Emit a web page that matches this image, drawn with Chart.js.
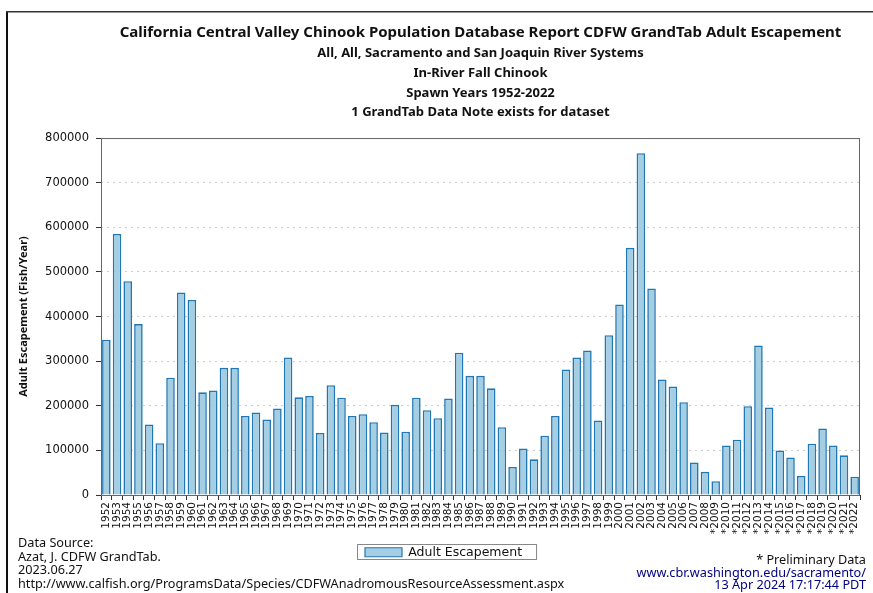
<!DOCTYPE html>
<html>
<head>
<meta charset="utf-8">
<script src="https://cdn.jsdelivr.net/npm/chart.js@4.4.0/dist/chart.umd.min.js"></script>
<style>
  html, body { margin: 0; padding: 0; background: #fff; }
  #wrap { position: relative; width: 873px; height: 593px; overflow: hidden; }
  #chart { position: absolute; left: 0; top: 0; }
  .note { position: absolute; font-family: "Noto Sans", sans-serif; font-size: 12.7px; line-height: 13.5px; color: #111; white-space: nowrap; }
  #source { left: 18px; top: 536px; }
  #stamp { right: 7px; top: 553px; text-align: right; line-height: 12.7px; }
  #stamp .link { color: #000080; }
</style>
</head>
<body>
<div id="wrap">
  <canvas id="chart" width="873" height="593"></canvas>
  <div class="note" id="source">Data Source:<br>Azat, J. CDFW GrandTab.<br>2023.06.27<br>http://www.calfish.org/ProgramsData/Species/CDFWAnadromousResourceAssessment.aspx</div>
  <div class="note" id="stamp">* Preliminary Data<br><span class="link">www.cbr.washington.edu/sacramento/</span><br><span class="link">13 Apr 2024 17:17:44 PDT</span></div>
</div>
<script>
// spawn years, * = preliminary
const yearLabels = [
    '1952','1953','1954','1955','1956','1957','1958','1959','1960','1961',
    '1962','1963','1964','1965','1966','1967','1968','1969','1970','1971',
    '1972','1973','1974','1975','1976','1977','1978','1979','1980','1981',
    '1982','1983','1984','1985','1986','1987','1988','1989','1990','1991',
    '1992','1993','1994','1995','1996','1997','1998','1999','2000','2001',
    '2002','2003','2004','2005','2006','2007','2008','*2009','*2010','*2011',
    '*2012','*2013','*2014','*2015','*2016','*2017','*2018','*2019','*2020','*2021',
    '*2022'
];

// adult escapement, fish per year
const escapement = [
    348000, 585000, 479000, 383000, 158000, 116000, 263000, 454000, 437000, 230000,
    234000, 285000, 285000, 177000, 185000, 169000, 194000, 308000, 219000, 222000,
    139000, 246000, 218000, 177000, 181000, 163000, 140000, 202000, 142000, 218000,
    190000, 172000, 216000, 319000, 267000, 267000, 239000, 152000, 63000, 104000,
    80000, 133000, 177000, 281000, 308000, 324000, 167000, 358000, 427000, 554000,
    766000, 463000, 259000, 243000, 208000, 73000, 52000, 31000, 111000, 124000,
    199000, 335000, 196000, 100000, 84000, 43000, 115000, 149000, 111000, 89000,
    41000
];

const yTicks = [0, 100000, 200000, 300000, 400000, 500000, 600000, 700000, 800000];

const titleText = 'California Central Valley Chinook Population Database Report CDFW GrandTab Adult Escapement';
const subtitleLines = [
    'All, All, Sacramento and San Joaquin River Systems',
    'In-River Fall Chinook',
    'Spawn Years 1952-2022',
    '1 GrandTab Data Note exists for dataset'
];

const PLOT_BOTTOM = 495;
const LEGEND_Y = 552;     // centre of legend row
const SWATCH_X = 365;     // left of legend swatch

const decorPlugin = {
    id: 'decor',
    beforeDraw(chart) {
        const lg = chart.legend;
        if (lg && lg.lineWidths) {
            const pad = lg.options.labels.padding;
            const rowStart = (lg.left + pad + lg.right - lg.lineWidths[0]) / 2;
            const dx = SWATCH_X - rowStart;
            lg.left += dx;
            lg.right += dx;
            const h = lg.height;
            lg.top = LEGEND_Y - pad - 6;
            lg.bottom = lg.top + h;
        }
    },
    afterDraw(chart) {
        const ctx = chart.ctx;
        const a = chart.chartArea;
        ctx.save();
        // plot frame
        ctx.strokeStyle = '#666';
        ctx.lineWidth = 1;
        ctx.strokeRect(a.left + 0.5, a.top + 0.5, a.right - a.left - 1, a.bottom - a.top);
        // legend frame
        const lg = chart.legend;
        if (lg && lg.lineWidths) {
            const pad = lg.options.labels.padding;
            const rowStart = (lg.left + pad + lg.right - lg.lineWidths[0]) / 2;
            const itemW = lg.lineWidths[0] - pad;
            ctx.strokeStyle = '#888';
            ctx.strokeRect(Math.round(rowStart - 8) + 0.5, LEGEND_Y - 7.5, itemW + 22, 15);
        }
        // page frame (top and left only)
        ctx.fillStyle = '#111';
        ctx.fillRect(6, 11, 2, 582);
        ctx.fillStyle = '#333';
        ctx.fillRect(6, 11, 867, 1.5);
        ctx.restore();
    }
};

const chart = new Chart(document.getElementById('chart'), {
    type: 'bar',
    data: {
        labels: yearLabels,
        datasets: [{
            label: 'Adult Escapement',
            data: escapement,
            backgroundColor: '#a6cee3',
            borderColor: '#1f78b4',
            borderWidth: { top: 1.6, left: 1.6, right: 1.6, bottom: 0 },
            inflateAmount: 0,
            categoryPercentage: 1,
            barPercentage: 0.8
        }]
    },
    options: {
        responsive: false,
        animation: false,
        devicePixelRatio: 1,
        layout: { padding: { left: 7, right: 13, top: 0, bottom: 0 } },
        plugins: {
            title: {
                display: true,
                fullSize: false,
                text: titleText,
                color: '#111',
                font: { family: 'Noto Sans', size: 15, weight: 'bold', lineHeight: 1.4 },
                padding: { top: 22.5, bottom: 0 }
            },
            subtitle: {
                display: true,
                fullSize: false,
                text: subtitleLines,
                color: '#111',
                font: { family: 'Noto Sans', size: 13, weight: 'bold', lineHeight: 1.52 },
                padding: { top: 0, bottom: 15.5 }
            },
            legend: {
                position: 'bottom',
                labels: {
                    color: '#111',
                    font: { family: 'DejaVu Sans', size: 12.5 },
                    boxWidth: 37,
                    boxHeight: 9,
                    padding: 10
                }
            },
            tooltip: { enabled: false }
        },
        scales: {
            x: {
                grid: { drawOnChartArea: false, tickLength: 5, tickColor: '#333' },
                border: { display: false },
                ticks: {
                    autoSkip: false,
                    minRotation: 90,
                    maxRotation: 90,
                    padding: 2,
                    color: '#111',
                    font: { family: 'DejaVu Sans', size: 10.5 }
                },
                afterFit(scale) {
                    const lh = scale.chart.legend ? scale.chart.legend.height : 32;
                    scale.height = 593 - PLOT_BOTTOM - lh;
                }
            },
            y: {
                min: 0,
                max: 800000,
                afterBuildTicks(scale) {
                    scale.ticks = yTicks.map(v => ({ value: v }));
                },
                ticks: {
                    padding: 7,
                    color: '#111',
                    font: { family: 'DejaVu Sans', size: 11.5 },
                    callback: v => String(v)
                },
                grid: {
                    color: c => (c.tick && (c.tick.value === 0 || c.tick.value === 800000)) ? 'rgba(0,0,0,0)' : '#cccccc',
                    tickColor: '#333',
                    tickLength: 5
                },
                border: { display: false, dash: [2, 4] },
                title: {
                    display: true,
                    text: 'Adult Escapement (Fish/Year)',
                    color: '#111',
                    font: { family: 'Noto Sans', size: 11, weight: 'bold' },
                    padding: { top: 10, bottom: 0 }
                },
                afterFit(scale) {
                    scale.width = 94;
                }
            }
        }
    },
    plugins: [decorPlugin]
});
</script>
</body>
</html>
